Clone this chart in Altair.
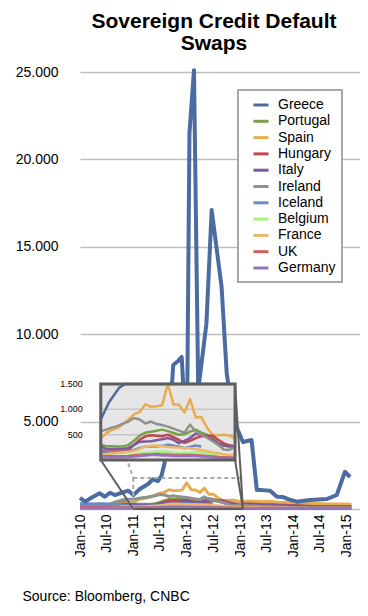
import altair as alt
import pandas as pd

# ---------------- data ----------------
COUNTRIES = ["Greece", "Portugal", "Spain", "Hungary", "Italy", "Ireland",
             "Iceland", "Belgium", "France", "UK", "Germany"]
COLORS = ["#4B6CA2", "#76A24B", "#E8AC50", "#C2484A", "#7B589F", "#909090",
          "#6A8CC6", "#A6F27E", "#ECB868", "#C95F5F", "#9673BA"]

MONTHS = pd.date_range("2010-01-01", periods=62, freq="MS").strftime("%Y-%m-%d").tolist()

GREECE_DATES = [
    "2010-01-01", "2010-02-05", "2010-04-01", "2010-05-15", "2010-06-20", "2010-07-25",
    "2010-08-28", "2010-10-12", "2010-11-28", "2011-01-01", "2011-02-15", "2011-04-12",
    "2011-05-15", "2011-06-18", "2011-07-12", "2011-08-03", "2011-09-10", "2011-10-01",
    "2011-11-01", "2011-11-28", "2011-12-12", "2012-01-05", "2012-01-20", "2012-02-20",
    "2012-03-20", "2012-05-15", "2012-06-20", "2012-08-27", "2012-10-01", "2012-11-01",
    "2012-12-10", "2013-01-20", "2013-03-20", "2013-04-25", "2013-06-01", "2013-07-25",
    "2013-09-10", "2013-10-21", "2013-12-01", "2014-01-24", "2014-04-23", "2014-08-16",
    "2014-10-24", "2014-12-19", "2015-01-23"]
GREECE = [
    630, 420, 700, 900, 700, 930,
    800, 930, 1050, 800, 1140, 1430,
    1700, 1600, 1890, 2630, 5500, 8240,
    8450, 8700, 6500, 6500, 21500, 25100,
    6800, 10600, 17100, 12700, 7760, 6000,
    4630, 3830, 3950, 1090, 1080, 1050,
    700, 680, 550, 420, 515, 570,
    800, 2130, 1830]

PORTUGAL = [90, 100, 110, 150, 250, 270, 260, 280, 330, 380, 420, 350,
            310, 270, 270, 267, 267, 300, 380, 480, 540, 560, 580, 600,
            570, 533, 500, 510, 560, 600, 540, 500, 433, 330, 280, 267,
            267, 300, 320, 340, 350, 390, 420, 400, 370, 340, 310, 290,
            270, 260, 250, 240, 230, 220, 220, 220, 230, 240, 240, 240,
            240, 230]
SPAIN = [100, 120, 130, 160, 230, 260, 250, 240, 250, 270, 320, 380,
         430, 530, 590, 630, 700, 800, 900, 950, 1100, 1050, 1060, 1080,
         1500, 1100, 1090, 940, 1200, 840, 850, 640, 500, 490, 500, 480,
         430, 450, 460, 450, 440, 430, 420, 410, 400, 390, 380, 370,
         360, 350, 340, 330, 320, 310, 300, 300, 290, 290, 280, 280,
         280, 270]
HUNGARY = [130, 130, 120, 130, 190, 220, 210, 210, 220, 240, 290, 260,
           200, 170, 167, 167, 167, 200, 300, 400, 467, 490, 480, 470,
           500, 450, 400, 340, 380, 433, 467, 480, 480, 400, 330, 290,
           270, 280, 280, 270, 260, 250, 240, 240, 230, 220, 210, 200,
           190, 180, 170, 160, 160, 150, 150, 150, 150, 150, 150, 150,
           150, 150]
ITALY = [90, 90, 80, 90, 150, 170, 150, 150, 160, 180, 210, 230,
         267, 220, 220, 220, 220, 240, 300, 360, 367, 370, 390, 410,
         433, 400, 333, 380, 433, 520, 500, 460, 400, 330, 290, 270,
         260, 270, 260, 250, 240, 230, 220, 210, 200, 190, 180, 170,
         160, 150, 140, 130, 120, 110, 110, 110, 110, 110, 110, 110,
         110, 110]
IRELAND = [150, 150, 150, 160, 220, 260, 270, 300, 400, 480, 550, 560,
           570, 600, 640, 670, 720, 760, 830, 800, 720, 760, 710, 690,
           660, 620, 580, 540, 700, 560, 500, 440, 370, 300, 210, 200,
           260, 190, 180, 170, 160, 150, 140, 130, 120, 110, 100, 90,
           80, 75, 70, 65, 60, 60, 55, 55, 55, 55, 55, 55,
           55, 55]
ICELAND = [300, 310, 300, 280, 300, 300, 280, 260, 250, 240, 220, 190,
           167, 160, 153, 153, 153, 170, 200, 240, 267, 267, 267, 280,
           300, 285, 267, 233, 260, 287, 267]
BELGIUM = [40, 40, 40, 50, 60, 70, 65, 65, 75, 90, 100, 80,
           67, 70, 73, 76, 80, 90, 110, 133, 145, 155, 165, 167,
           160, 145, 135, 133, 140, 150, 153, 135, 113, 80, 50, 40,
           33, 35, 35, 35, 35, 35, 35, 35, 30, 30, 30, 30,
           30, 30, 30, 30, 30, 30, 30, 30, 30, 30, 30, 30,
           30, 30]
FRANCE = [50, 50, 55, 60, 75, 90, 80, 80, 90, 100, 110, 110,
          113, 120, 130, 140, 153, 165, 180, 220, 267, 280, 287, 270,
          260, 250, 247, 240, 233, 215, 200, 180, 150, 133, 115, 100,
          100, 95, 90, 85, 80, 75, 70, 65, 60, 55, 55, 50,
          50, 50, 45, 45, 40, 40, 40, 40, 40, 40, 40, 40,
          40, 40]
UK = [80, 80, 85, 90, 90, 85, 80, 75, 70, 70, 70, 70,
      80, 75, 75, 75, 75, 80, 90, 100, 110, 110, 120, 110,
      110, 100, 100, 100, 100, 95, 90, 80, 70, 60, 55, 50,
      50, 50, 50, 45, 45, 45, 40, 40, 40, 35, 35, 35,
      30, 30, 30, 30, 30, 30, 30, 30, 30, 30, 30, 30,
      30, 30]
GERMANY = [40, 40, 45, 50, 50, 50, 45, 45, 45, 45, 50, 50,
           55, 55, 55, 55, 55, 60, 70, 80, 90, 100, 100, 90,
           90, 80, 80, 80, 85, 80, 70, 60, 50, 45, 40, 40,
           35, 35, 35, 30, 30, 30, 30, 30, 25, 25, 25, 25,
           25, 25, 25, 25, 25, 25, 25, 25, 25, 25, 25, 25,
           25, 25]

X_TICKS = ["2010-01-01", "2010-07-01", "2011-01-01", "2011-07-01", "2012-01-01",
           "2012-07-01", "2013-01-01", "2013-07-01", "2014-01-01", "2014-07-01",
           "2015-01-01"]
X_DOMAIN = ["2010-01-01", "2015-04-01"]
Y_TICKS = [0, 5000, 10000, 15000, 20000, 25000]

# zoom inset: period/value range shown, and its placement in main-chart units
ZOOM_PERIOD = ["2011-01-01", "2013-01-01"]
ZOOM_MAX = 1500
INSET_GRID = [500, 1000]
INSET_TICKS = [500, 1000, 1500]
INSET_TICK_LABELS = ["500", "1.000", "1.500"]
INSET_X = ["2010-05-23", "2012-11-27"]
INSET_Y = [2800, 7150]
ZOOM_BOX_X = ["2011-01-01", "2013-01-20"]
ZOOM_BOX_TOP = 1770

SOURCE = "Source: Bloomberg, CNBC"
TITLE = ["Sovereign Credit Default", "Swaps"]
FONT = "Liberation Sans"

# ---------------- tables ----------------
rows = []
series = {"Portugal": PORTUGAL, "Spain": SPAIN, "Hungary": HUNGARY, "Italy": ITALY,
          "Ireland": IRELAND, "Iceland": ICELAND, "Belgium": BELGIUM, "France": FRANCE,
          "UK": UK, "Germany": GERMANY}
for name, vals in series.items():
    for d, v in zip(MONTHS, vals):
        rows.append((name, d, v))
df_others = pd.DataFrame(rows, columns=["country", "date", "value"])
df_greece = pd.DataFrame({"country": "Greece", "date": GREECE_DATES, "value": GREECE})
df_all = pd.concat([df_greece, df_others], ignore_index=True)


def ms(s):
    return int(pd.Timestamp(s, tz="UTC").value // 10**6)


def dt(s):
    t = pd.Timestamp(s)
    return alt.DateTime(year=t.year, month=t.month, date=t.day, utc=True)


SRC0, SRC1 = ms(ZOOM_PERIOD[0]), ms(ZOOM_PERIOD[1])
DST0, DST1 = ms(INSET_X[0]), ms(INSET_X[1])
K = (DST1 - DST0) / (SRC1 - SRC0)
IY0, IY1 = INSET_Y
IX_EXPR = f"{DST0} + (time(datum.date) - {SRC0}) * {K}"
IY_EXPR = f"{IY0} + min(datum.value, {ZOOM_MAX}) / {ZOOM_MAX} * {IY1 - IY0}"

XS = alt.Scale(domain=[dt(X_DOMAIN[0]), dt(X_DOMAIN[1])], nice=False)
YS = alt.Scale(domain=[0, 25000], nice=False)

XAX = alt.Axis(orient="bottom", values=[dt(v) for v in X_TICKS],
               labelExpr="utcFormat(datum.value, '%b-%y')",
               labelAngle=-90, labelFontSize=14, labelFont=FONT, labelColor="black",
               labelPadding=5, ticks=False, domain=False, grid=False,
               titleX=-58, titleY=91, titleAlign="left", titleAngle=0,
               titleBaseline="alphabetic", titleFontSize=14, titleFontWeight="normal",
               titleColor="black", titleFont=FONT)
YAX = alt.Axis(orient="left", values=Y_TICKS,
               labelExpr="datum.value == 0 ? '' : replace(format(datum.value, ','), ',', '.')",
               grid=True, gridColor="#BEBEBE", gridWidth=1.6, domain=False, ticks=False,
               labelPadding=22, labelFontSize=14, labelFont=FONT, labelColor="black")


def X(field):
    return alt.X(field, type="temporal", scale=XS, axis=XAX, title=SOURCE)


def Y(field):
    return alt.Y(field, type="quantitative", scale=YS, axis=YAX, title=None)


LEGEND = alt.Legend(
    title=None, orient="none", legendX=158, legendY=18,
    symbolType="stroke", symbolStrokeWidth=3, symbolSize=225,
    labelFontSize=14, labelFont=FONT, labelColor="black", labelOffset=8,
    rowPadding=0.3, padding=6, symbolOffset=8,
    strokeColor="#A8A8A8", fillColor="white",
)
COLOR = alt.Color("country:N", scale=alt.Scale(domain=COUNTRIES, range=COLORS), legend=LEGEND)
COLOR_NOLEG = alt.Color("country:N", scale=alt.Scale(domain=COUNTRIES, range=COLORS), legend=None)

others = alt.Chart(df_others).mark_line(strokeWidth=3, strokeJoin="round").encode(
    x=X("date"), y=Y("value"), color=COLOR)

greece = alt.Chart(df_greece).mark_line(strokeWidth=4, strokeJoin="round").encode(
    x=X("date"), y=Y("value"), color=COLOR_NOLEG)

# zoom region outline and connectors (main-chart units)
seg_dashed = pd.DataFrame({
    "x": [ZOOM_BOX_X[0], ZOOM_BOX_X[0], INSET_X[0]],
    "x2": ["2013-02-01", ZOOM_BOX_X[0], ZOOM_BOX_X[0]],
    "y": [ZOOM_BOX_TOP, ZOOM_BOX_TOP, INSET_Y[1]],
    "y2": [ZOOM_BOX_TOP, 0, ZOOM_BOX_TOP]})
seg_solid = pd.DataFrame({
    "x": [ZOOM_BOX_X[0], INSET_X[0], INSET_X[1], INSET_X[1]],
    "x2": [ZOOM_BOX_X[1], ZOOM_BOX_X[0], ZOOM_BOX_X[1], ZOOM_BOX_X[1]],
    "y": [0, INSET_Y[0], INSET_Y[1], INSET_Y[0]],
    "y2": [0, 0, 0, 0]})


def seg_enc(ch):
    return ch.encode(x=X("x"), x2="x2:T", y=Y("y"), y2="y2:Q")


dashed = seg_enc(alt.Chart(seg_dashed).mark_rule(color="#A9A9A9", strokeWidth=2, strokeDash=[4, 3]))
solid = seg_enc(alt.Chart(seg_solid).mark_rule(color="#5E5E5E", strokeWidth=2))

box = pd.DataFrame({"x": [INSET_X[0]], "x2": [INSET_X[1]], "y": [INSET_Y[0]], "y2": [INSET_Y[1]]})
inset_fill = seg_enc(alt.Chart(box).mark_rect(color="#E6E6E6"))
inset_frame = seg_enc(alt.Chart(box).mark_rect(filled=False, stroke="#5E5E5E", strokeWidth=3))

grid_df = pd.DataFrame({"x": INSET_X[0], "x2": INSET_X[1], "value": INSET_GRID})
inset_grid = alt.Chart(grid_df).mark_rule(color="#C6C6C6", strokeWidth=1.5).transform_calculate(
    iy=IY_EXPR).encode(x=X("x"), x2="x2:T", y=Y("iy"))

inset_lines = alt.Chart(df_all).mark_line(strokeWidth=2.5, strokeJoin="round").transform_filter(
    f"time(datum.date) >= {SRC0} && time(datum.date) <= {SRC1}").transform_calculate(
    ix=IX_EXPR, iy=IY_EXPR).encode(
    x=X("ix"), y=Y("iy"), color=COLOR_NOLEG, order="ix:Q")

lab_df = pd.DataFrame({"x": INSET_X[0], "value": INSET_TICKS, "label": INSET_TICK_LABELS})
inset_labels = alt.Chart(lab_df).mark_text(
    align="right", baseline="middle", dx=-18, fontSize=9, font=FONT, color="black").transform_calculate(
    iy=IY_EXPR).encode(x=X("x"), y=Y("iy"), text="label:N")

chart = alt.layer(
    others, greece, dashed, solid, inset_fill, inset_grid, inset_lines, inset_frame, inset_labels
).properties(
    width=280, height=437,
    autosize=alt.AutoSizeParams(type="none"),
    padding={"left": 72, "top": 64, "right": 0, "bottom": 98},
    title=alt.TitleParams(TITLE, fontSize=21, font=FONT, fontWeight="bold", color="black",
                          anchor="middle", frame="group", offset=20, baseline="bottom",
                          lineHeight=22, dx=-6, dy=30),
).configure_view(stroke=None).configure_legend(strokeWidth=2)

chart.save("out.html", embed_options={"renderer": "svg", "actions": False})
